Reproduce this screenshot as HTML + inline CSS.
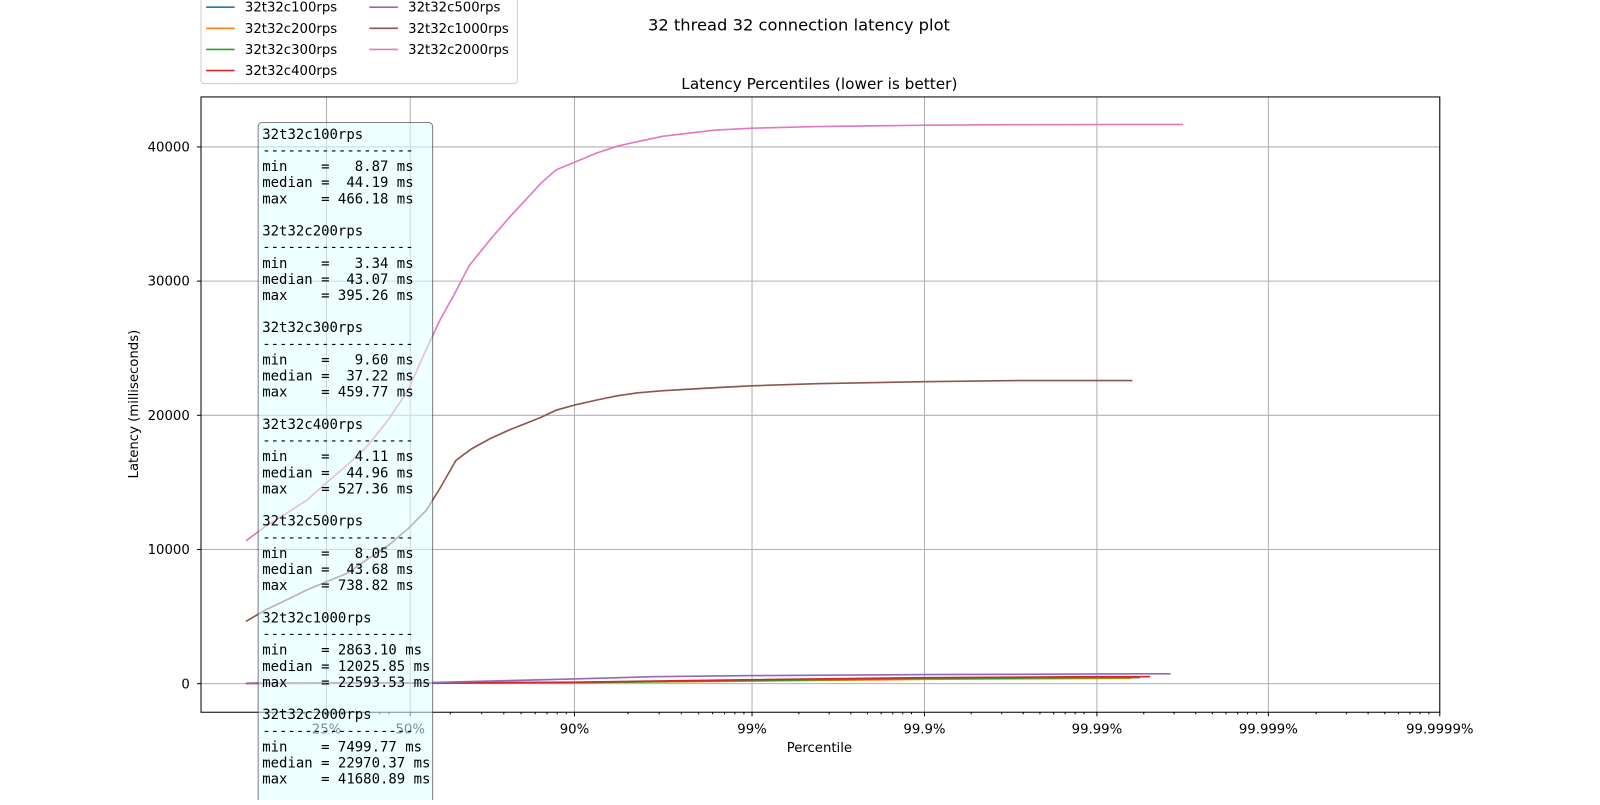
<!DOCTYPE html>
<html><head><meta charset="utf-8"><style>
body{margin:0;background:#fff}
svg text{font-family:"DejaVu Sans","Liberation Sans",sans-serif}
</style></head><body>
<svg id="c" width="1600" height="800" xmlns="http://www.w3.org/2000/svg">
<g id="root" transform="scale(1.0204)">
<text x="783" y="30" font-size="16" text-anchor="middle">32 thread 32 connection latency plot</text>
<text x="803" y="87" font-size="15" text-anchor="middle">Latency Percentiles (lower is better)</text>
<g id="grid"></g><g id="series"></g><g id="axes"></g>
</g>
</svg>
<script>
const tickLabels=["25%","50%","90%","99%","99.9%","99.99%","99.999%","99.9999%"];
const tickL=[0.125,0.301,1,2,3,4,5,6];
const yTicks=[0,10000,20000,30000,40000];
const seriesNames=["32t32c100rps","32t32c200rps","32t32c300rps","32t32c400rps","32t32c500rps","32t32c1000rps","32t32c2000rps"];
const colors=["#1f77b4","#ff7f0e","#2ca02c","#d62728","#9467bd","#8c564b","#e377c2"];
const xs100=[0,0.301,1,2,3,4,4.25];const ys100=[30,44,90,250,400,455,466];
const xs200=[0,0.301,1,2,3,4,4.2];const ys200=[20,43,80,200,330,385,395];
const xs300=[0,0.301,1,2,3,4,4.25];const ys300=[30,37,80,230,390,450,460];
const xs400=[0,0.301,1,2,3,4,4.31];const ys400=[30,45,110,300,450,515,527];
const xs500=[0,0.301,1,1.44,2,3,4,4.43];const ys500=[30,44,350,520,600,680,720,738];
const xs1000=[0,0.030,0.063,0.095,0.125,0.168,0.211,0.254,0.297,0.370,0.429,0.496,0.561,0.640,0.727,0.792,0.857,0.922,1,1.126,1.241,1.356,1.5,1.787,2,2.373,3,3.556,4.207];
const ys1000=[4640,5480,6240,7000,7600,8210,9280,10270,11560,12930,14600,16650,17490,18250,18940,19390,19850,20380,20760,21140,21450,21670,21830,22050,22200,22360,22510,22590,22594];
const xs2000=[0,0.030,0.063,0.095,0.125,0.168,0.211,0.254,0.297,0.364,0.429,0.488,0.553,0.648,0.727,0.792,0.857,0.922,1,1.126,1.241,1.356,1.5,1.787,2,2.373,3,3.556,4.503];
const ys2000=[10650,11710,12700,13690,14980,16270,17720,19620,21900,24710,27150,29000,31180,33230,34830,36050,37300,38300,38860,39550,40050,40400,40800,41250,41400,41520,41620,41660,41680];
const allX=[xs100,xs200,xs300,xs400,xs500,xs1000,xs2000];
const allY=[ys100,ys200,ys300,ys400,ys500,ys1000,ys2000];
const stats=[["8.87","44.19","466.18"],["3.34","43.07","395.26"],["9.60","37.22","459.77"],["4.11","44.96","527.36"],["8.05","43.68","738.82"],["2863.10","12025.85","22593.53"],["7499.77","22970.37","41680.89"]];

const NS="http://www.w3.org/2000/svg";
const X0=197,X1=1411,Y0=95,Y1=698;
const anchorsL=[0,0.125,0.301,1,2,3,4,5,6],anchorsP=[241,320,402,563,737,906,1075,1243,1411];
function xS(L){for(let i=0;i<anchorsL.length-1;i++){if(L<=anchorsL[i+1]||i==anchorsL.length-2){const t=(L-anchorsL[i])/(anchorsL[i+1]-anchorsL[i]);return anchorsP[i]+t*(anchorsP[i+1]-anchorsP[i]);}}}
function yS(v){return 670-v*526/40000;}
function mk(tag,a,parent,txt){const e=document.createElementNS(NS,tag);for(const k in a)e.setAttribute(k,a[k]);if(txt!=null)e.textContent=txt;parent.appendChild(e);return e;}
const grid=document.getElementById('grid'),ser=document.getElementById('series'),ax=document.getElementById('axes');
tickL.forEach((L,i)=>{const x=xS(L);
 const g=mk('line',{x1:x,x2:x,y1:Y0,y2:Y1,stroke:'#b0b0b0','stroke-width':1},grid);
 });
yTicks.forEach(v=>{const y=yS(v);const g=mk('line',{x1:X0,x2:X1,y1:y,y2:y,stroke:'#b0b0b0'},grid);
 });
allX.forEach((xs,s)=>{const pts=xs.map((x,i)=>xS(x).toFixed(1)+','+yS(allY[s][i]).toFixed(1)).join(' ');
 const p=mk('polyline',{points:pts,fill:'none',stroke:colors[s],'stroke-width':1.6},ser);
 });
const fr=mk('rect',{x:X0,y:Y0,width:X1-X0,height:Y1-Y0,fill:'none',stroke:'#000','stroke-width':1},ax);

yTicks.forEach(v=>{const y=yS(v);mk('line',{x1:X0-4,x2:X0,y1:y,y2:y,stroke:'#000'},ax);
 const t=mk('text',{x:186,y:y+4.5,'font-size':13,'text-anchor':'end'},ax,String(v));
 });
const minors=[];for(let d=0;d<6;d++)for(let k=2;k<=9;k++)minors.push(563+(d*169+Math.log10(k)*169)*(d==0?174/169:1));
for(let k=2;k<=9;k++){minors.push(563-174*(1-Math.log10(k)));minors.push(389-174*(1-Math.log10(k)));}
minors.forEach(x=>{if(x>X0&&x<X1)mk('line',{x1:x,x2:x,y1:Y1,y2:Y1+2,stroke:'#000'},ax);});
tickL.forEach((L,i)=>{const x=xS(L);mk('line',{x1:x,x2:x,y1:Y1,y2:Y1+4,stroke:'#000'},ax);
 const t=mk('text',{x:x,y:719,'font-size':13,'text-anchor':'middle'},ax,tickLabels[i]);
 });
const xl=mk('text',{x:803,y:737,'font-size':13,'text-anchor':'middle'},ax,'Percentile');

const yl=mk('text',{x:135,y:396,'font-size':13,'text-anchor':'middle',transform:'rotate(-90 135 396)'},ax,'Latency (milliseconds)');

const bx=mk('rect',{x:253,y:120,width:171,height:700,rx:4,fill:'#e0ffff','fill-opacity':0.55,stroke:'#000','stroke-opacity':0.5},ax);

let ly=136;
seriesNames.forEach((n,i)=>{const lines=[n,'------------------','min    = '+stats[i][0].padStart(6)+' ms','median = '+stats[i][1].padStart(6)+' ms','max    = '+stats[i][2].padStart(6)+' ms'];
 lines.forEach(l=>{const t=mk('text',{x:257,y:ly,'font-size':13.7},ax,l);
 t.style.whiteSpace='pre';t.style.fontFamily='"DejaVu Sans Mono","Liberation Mono",monospace';
 ly+=15.8;});ly+=15.8;});
const lg=mk('rect',{x:197,y:-5,width:310,height:87,rx:3,fill:'#fff','fill-opacity':0.8,stroke:'#ccc'},ax);

seriesNames.forEach((n,i)=>{const col=i<4?0:1,row=i<4?i:i-4;const x=202+col*160,y=7+row*20.7;
 mk('line',{x1:x,x2:x+28,y1:y,y2:y,stroke:colors[i],'stroke-width':1.6},ax);
 const t=mk('text',{x:x+38,y:y+4.5,'font-size':13},ax,n);
 });
</script>
</body></html>
